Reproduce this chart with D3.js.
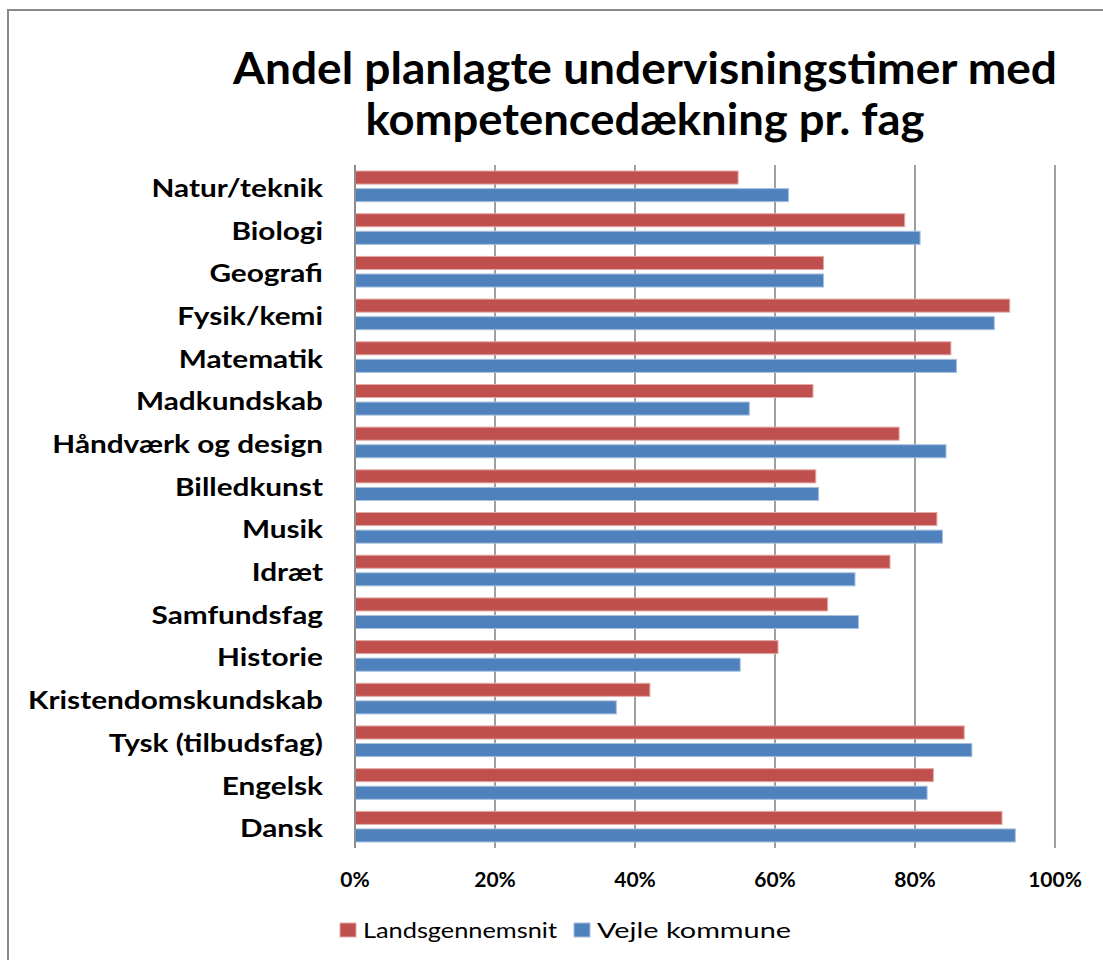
<!DOCTYPE html>
<html>
<head>
<meta charset="utf-8">
<script src="https://cdn.jsdelivr.net/npm/d3@7"></script>
<style>
  html, body { margin: 0; padding: 0; background: #fff; }
  svg { display: block; }
  text { font-family: Lato, "Open Sans", sans-serif; }
</style>
</head>
<body>
<svg id="chart" width="1103" height="960"></svg>
<script>
const categories = ["Natur/teknik","Biologi","Geografi","Fysik/kemi","Matematik","Madkundskab","Håndværk og design","Billedkunst","Musik","Idræt","Samfundsfag","Historie","Kristendomskundskab","Tysk (tilbudsfag)","Engelsk","Dansk"];
const seriesNames = ["Landsgennemsnit", "Vejle kommune"];
const landsgennemsnit = [54.8, 78.6, 67.0, 93.6, 85.2, 65.5, 77.8, 65.9, 83.2, 76.5, 67.6, 60.5, 42.2, 87.1, 82.7, 92.5];
const vejleKommune   = [62.0, 80.8, 67.0, 91.4, 86.0, 56.4, 84.5, 66.3, 84.0, 71.5, 72.0, 55.1, 37.4, 88.2, 81.8, 94.4];
const tickValues = [0, 20, 40, 60, 80, 100];
const titleLines = ["Andel planlagte undervisningstimer med", "kompetencedækning pr. fag"];

const colors = ["#C0504D", "#4F81BD"];
const strokes = ["#E3A9A8", "#A7C0DE"];

const svg = d3.select("#chart");

// outer frame
svg.append("rect").attr("x", 8).attr("y", 10).attr("width", 1110).attr("height", 970)
  .attr("fill", "none").attr("stroke", "#8a8a8a").attr("stroke-width", 2);

const plot = {left: 355, right: 1055, top: 165, bottom: 848};

const x = d3.scaleLinear().domain([0, 100]).range([plot.left, plot.right]);
const y = d3.scaleBand().domain(categories).range([plot.top, plot.bottom]).padding(0);
const ys = d3.scaleBand().domain(seriesNames).range([0, y.bandwidth()]).paddingInner(0.2).paddingOuter(0.314);

// gridlines
svg.append("g").selectAll("line").data(tickValues).join("line")
  .attr("x1", d => x(d)).attr("x2", d => x(d))
  .attr("y1", plot.top).attr("y2", plot.bottom)
  .attr("stroke", "#878787").attr("stroke-width", 1.6);

// bars
const rows = categories.map((c, i) => ({c, vals: [landsgennemsnit[i], vejleKommune[i]]}));
const g = svg.append("g");
rows.forEach(r => {
  r.vals.forEach((v, si) => {
    g.append("rect")
      .attr("x", x(0) + 0.5)
      .attr("y", y(r.c) + ys(seriesNames[si]) + 0.5)
      .attr("width", x(v) - x(0) - 1)
      .attr("height", ys.bandwidth() - 1)
      .attr("fill", colors[si])
      .attr("stroke", strokes[si])
      .attr("stroke-width", 1);
  });
});

// redraw 0 axis line on top
svg.append("line").attr("x1", x(0)).attr("x2", x(0)).attr("y1", plot.top).attr("y2", plot.bottom)
  .attr("stroke", "#878787").attr("stroke-width", 1.6);

// category labels
const labelG = svg.append("g");
const labels = labelG.selectAll("text").data(categories).join("text")
  .attr("text-anchor", "end")
  .attr("dominant-baseline", "central")
  .attr("font-size", 25)
  .attr("font-weight", "bold")
  .attr("fill", "#000")
  .text(d => d);
// horizontal scale to match the reference label width
const refNode = labels.filter(d => d === "Kristendomskundskab").node();
const kx = 295 / refNode.getComputedTextLength();
labels.attr("transform", d => `translate(323,${y(d) + y.bandwidth() / 2 + 1}) scale(${kx},1)`);

// x tick labels
svg.append("g").selectAll("text").data(tickValues).join("text")
  .attr("x", d => x(d)).attr("y", 887)
  .attr("text-anchor", "middle")
  .attr("font-size", 21)
  .attr("font-weight", "bold")
  .attr("fill", "#000")
  .text(d => d + "%");

// title
const titleBase = [84, 135];
const titleLens = [824, 559];
titleLines.forEach((t, i) => {
  svg.append("text")
    .attr("x", 645).attr("y", titleBase[i])
    .attr("text-anchor", "middle")
    .attr("font-size", 43)
    .attr("font-weight", "bold")
    .attr("textLength", titleLens[i])
    .attr("lengthAdjust", "spacingAndGlyphs")
    .attr("fill", "#000")
    .text(t);
});

// legend
const legendX = [340, 574];
const legendW = [194, 194];
seriesNames.forEach((s, i) => {
  svg.append("rect").attr("x", legendX[i]).attr("y", 923).attr("width", 16).attr("height", 14)
    .attr("fill", colors[i]).attr("stroke", strokes[i]).attr("stroke-width", 1);
  svg.append("text").attr("x", legendX[i] + 23).attr("y", 938)
    .attr("font-size", 21)
    .attr("textLength", legendW[i])
    .attr("lengthAdjust", "spacingAndGlyphs")
    .attr("fill", "#000")
    .text(s);
});
</script>
</body>
</html>
